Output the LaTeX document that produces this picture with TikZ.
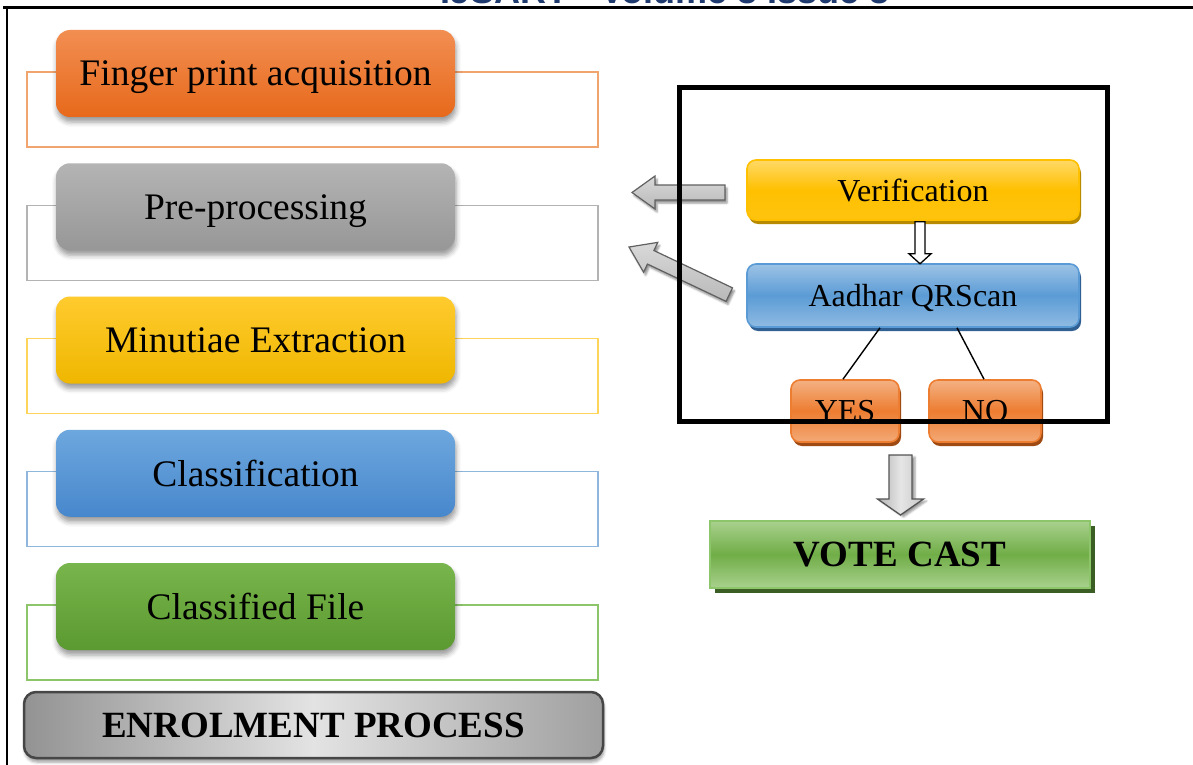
\documentclass[tikz,border=0pt]{standalone}
\usepackage{fontspec}
\setmainfont{Liberation Serif}
\newfontfamily\hdrfont{Liberation Sans}
\usetikzlibrary{shadows,shadows.blur,calc}

% palette
\definecolor{orTop}{HTML}{F28E52}
\definecolor{orBot}{HTML}{E7691B}
\definecolor{orLine}{HTML}{F2A46E}
\definecolor{grTop}{HTML}{B4B4B4}
\definecolor{grBot}{HTML}{979797}
\definecolor{grLine}{HTML}{B3B3B3}
\definecolor{yeTop}{HTML}{FFCB2E}
\definecolor{yeBot}{HTML}{EFB700}
\definecolor{yeLine}{HTML}{FFD45A}
\definecolor{blTop}{HTML}{6DA7DE}
\definecolor{blBot}{HTML}{4787CC}
\definecolor{blLine}{HTML}{8FB7DD}
\definecolor{gnTop}{HTML}{78B54C}
\definecolor{gnBot}{HTML}{5B9A30}
\definecolor{gnLine}{HTML}{8CC56A}
\definecolor{hdrBlue}{HTML}{1F3A6E}
\definecolor{vGold}{HTML}{FFC000}
\definecolor{vGoldLt}{HTML}{FFD966}
\definecolor{vGoldDk}{HTML}{B88A00}
\definecolor{qBlue}{HTML}{5B9BD5}
\definecolor{qBlueLt}{HTML}{9DC3E6}
\definecolor{qBlueDk}{HTML}{2F5F93}
\definecolor{ynOr}{HTML}{ED7D31}
\definecolor{ynOrLt}{HTML}{F4B183}
\definecolor{ynOrDk}{HTML}{9E4A12}
\definecolor{vcGreen}{HTML}{70AD47}
\definecolor{vcGreenLt}{HTML}{A9D18E}
\definecolor{vcLine}{HTML}{8CC56A}
\definecolor{vcDark}{HTML}{3B5E25}

\tikzset{
  stage/.style={rounded corners=14pt, minimum width=399pt, minimum height=87pt,
    inner sep=0pt, text depth=0pt, font=\fontsize{37.5}{40}\selectfont,
    blur shadow={shadow xshift=1pt, shadow yshift=-5pt,
      shadow blur radius=5pt, shadow opacity=40}},
  backframe/.style={draw, line width=1.2pt, minimum width=571pt,
    minimum height=75pt, inner sep=0pt},
  rbox/.style={draw, line width=1.6pt, rounded corners=9pt, inner sep=0pt,
    text depth=0pt, font=\fontsize{32}{34}\selectfont},
  verifbox/.style={rbox, draw=vGold, top color=vGoldLt, bottom color=vGold!85!vGoldLt,
    middle color=vGold, minimum width=332pt, minimum height=60pt,
    drop shadow={shadow xshift=2pt, shadow yshift=-4pt, fill=vGoldDk, opacity=1}},
  qrbox/.style={rbox, draw=qBlue, top color=qBlueLt, bottom color=qBlueLt!80!qBlue,
    middle color=qBlue, minimum width=332pt, minimum height=63pt,
    drop shadow={shadow xshift=2pt, shadow yshift=-4pt, fill=qBlueDk, opacity=1}},
  ynbox/.style={rbox, draw=ynOr, top color=ynOrLt, bottom color=ynOrLt!85!ynOr,
    middle color=ynOr, minimum height=62pt,
    drop shadow={shadow xshift=2pt, shadow yshift=-4pt, fill=ynOrDk, opacity=1}},
  grayarrow/.style={draw=gray!75!black, line width=1.2pt, line join=miter,
    top color=gray!30, bottom color=gray!55,
    blur shadow={shadow xshift=2pt, shadow yshift=-3pt,
      shadow blur radius=2pt, shadow opacity=45}},
}

\begin{document}
\begin{tikzpicture}[x=1pt, y=-1pt]
\useasboundingbox (0,0) rectangle (1193,765);

% page header, cut by the page edge
\node[anchor=base west, inner sep=0pt, text=hdrBlue,
  font=\hdrfont\bfseries\fontsize{36}{40}\selectfont] (hdr) at (440,4)
  {IJSART - Volume 3 Issue 3};

% page frame
\draw[line width=3pt] (3,7.5) -- (1193,7.5);
\draw[line width=2pt] (6.5,7) -- (6.5,765);

% ---- enrolment stages ----
\node[backframe, draw=orLine] (f1) at (312.5,109.5) {};
\node[backframe, draw=grLine] (f2) at (312.5,242.75) {};
\node[backframe, draw=yeLine] (f3) at (312.5,376) {};
\node[backframe, draw=blLine] (f4) at (312.5,509.25) {};
\node[backframe, draw=gnLine] (f5) at (312.5,642.5) {};

\node[stage, top color=orTop, bottom color=orBot] (s1) at (255.5,73.5) {Finger print acquisition};
\node[stage, top color=grTop, bottom color=grBot] (s2) at (255.5,206.75) {Pre-processing};
\node[stage, top color=yeTop, bottom color=yeBot] (s3) at (255.5,340) {Minutiae Extraction};
\node[stage, top color=blTop, bottom color=blBot] (s4) at (255.5,473.25) {Classification};
\node[stage, top color=gnTop, bottom color=gnBot] (s5) at (255.5,606.5) {Classified File};

\node[draw=gray!55!black, line width=2.5pt, rounded corners=12pt,
  minimum width=579pt, minimum height=66pt, inner sep=0pt,
  left color=gray!85, right color=gray!75, middle color=gray!22,
  font=\bfseries\fontsize{37}{40}\selectfont,
  blur shadow={shadow xshift=1pt, shadow yshift=-4pt,
    shadow blur radius=3pt, shadow opacity=40}]
  (enrol) at (313.5,725) {ENROLMENT PROCESS};

% ---- verification stage ----
\node[verifbox] (verif) at (913,190) {Verification};
\node[qrbox] (qr) at (913,295.5) {Aadhar QRScan};
\node[ynbox, minimum width=108pt] (yes) at (845,411) {YES};
\node[ynbox, minimum width=112pt] (no) at (985,411) {NO};

\draw[line width=1.4pt] ([xshift=-33pt]qr.south) -- ([xshift=-2pt]yes.north);
\draw[line width=1.4pt] ([xshift=44pt]qr.south) -- ([xshift=-1pt]no.north);

% hollow arrow from verification down to the QR scan
\begin{scope}[shift={([xshift=7pt]verif.south)}]
  \draw[line width=1.3pt, fill=white, line join=miter]
    (-5,1) -- (5,1) -- (5,33) -- (11,33) -- (0,43) -- (-11,33) -- (-5,33) -- cycle;
\end{scope}

% block arrows back to the enrolment stages
\begin{scope}[shift={(632,192.5)}]
  \draw[grayarrow]
    (0,0) -- (23,-16.5) -- (23,-7.5) -- (93,-7.5) -- (93,7.5) -- (23,7.5) -- (23,16.5) -- cycle;
\end{scope}
\begin{scope}[shift={(629,247)}, rotate=-25.4]
  \draw[grayarrow]
    (0,0) -- (24,-16.5) -- (24,-7.5) -- (111,-7.5) -- (111,7.5) -- (24,7.5) -- (24,16.5) -- cycle;
\end{scope}

% outer box of the verification stage
\node[draw, line width=5pt, minimum width=428pt, minimum height=333pt,
  inner sep=0pt] (vframe) at (893,254.5) {};

% arrow down to the vote
\begin{scope}[shift={(900.5,455)}]
  \draw[draw=gray!65!black, line width=1.3pt, line join=miter,
    left color=gray!60, right color=gray!45, middle color=gray!20,
    blur shadow={shadow xshift=3pt, shadow yshift=-2pt,
      shadow blur radius=2pt, shadow opacity=40}]
    (-11.5,0) -- (11.5,0) -- (11.5,44) -- (23,44) -- (0,60) -- (-23,44) -- (-11.5,44) -- cycle;
\end{scope}

\node[draw=vcLine, line width=2pt, minimum width=380pt, minimum height=67pt,
  inner sep=0pt, top color=vcGreenLt, bottom color=vcGreenLt, middle color=vcGreen,
  font=\bfseries\fontsize{37}{40}\selectfont,
  drop shadow={shadow xshift=5pt, shadow yshift=-5pt, fill=vcDark, opacity=1}]
  (vote) at (900,554.5) {VOTE CAST};

\end{tikzpicture}
\end{document}
